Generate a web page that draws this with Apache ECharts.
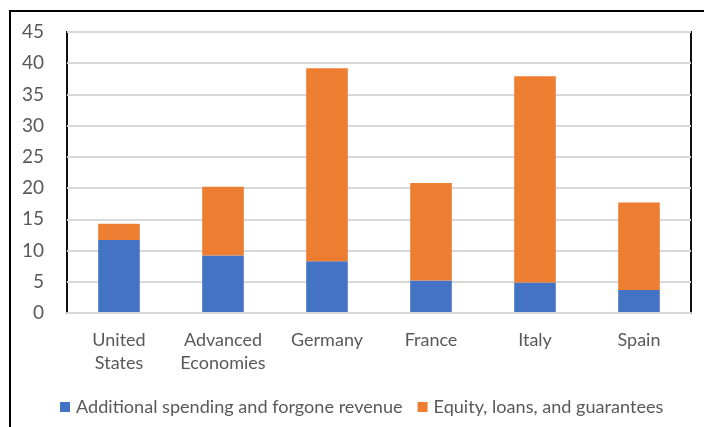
<!DOCTYPE html>
<html>
<head>
<meta charset="utf-8">
<script src="https://cdn.jsdelivr.net/npm/echarts@6/dist/echarts.min.js"></script>
<style>
  html, body { margin: 0; padding: 0; background: #fff; }
  #chart { width: 704px; height: 427px; }
</style>
</head>
<body>
<div id="chart"></div>
<script>
// Fiscal support by economy, % of GDP
const categories = ['United\nStates', 'Advanced\nEconomies', 'Germany', 'France', 'Italy', 'Spain'];
const spending = [11.7, 9.2, 8.3, 5.2, 4.9, 3.7];      // additional spending and forgone revenue
const equityLoans = [2.6, 11.0, 30.9, 15.6, 33.0, 14.0]; // equity, loans, and guarantees
const yTicks = { min: 0, max: 45, interval: 5 };

const FONT = 'Lato, "Open Sans", sans-serif';
const TEXT = '#595959';

const chart = echarts.init(document.getElementById('chart'), null, { renderer: 'canvas' });

chart.setOption({
  animation: false,
  backgroundColor: '#ffffff',
  textStyle: { fontFamily: FONT, color: TEXT },
  grid: {
    left: 67, right: 13, top: 32, bottom: 114,
    show: true, borderColor: '#111', borderWidth: 2
  },
  legend: {
    left: 55, top: 393,
    icon: 'rect', itemWidth: 10, itemHeight: 10, itemGap: 15,
    textStyle: { fontFamily: FONT, fontSize: 18.1, color: TEXT, padding: [0, 0, 0, 1] },
    data: ['Additional spending and forgone revenue', 'Equity, loans, and guarantees']
  },
  xAxis: {
    type: 'category',
    data: categories,
    z: 5,
    axisLine: { show: true, lineStyle: { color: '#d9d9d9', width: 2 } },
    axisTick: { show: false },
    axisLabel: { fontFamily: FONT, fontSize: 18, color: TEXT, lineHeight: 23, margin: 16, interval: 0 }
  },
  yAxis: {
    type: 'value',
    min: yTicks.min, max: yTicks.max, interval: yTicks.interval,
    axisLine: { show: false },
    axisTick: { show: false },
    splitLine: { lineStyle: { color: '#d9d9d9', width: 2 } },
    axisLabel: { fontFamily: FONT, fontSize: 19, color: TEXT, margin: 23 }
  },
  series: [
    {
      name: 'Additional spending and forgone revenue',
      type: 'bar', stack: 'total',
      barCategoryGap: '60%',
      itemStyle: { color: '#4472C4' },
      data: spending
    },
    {
      name: 'Equity, loans, and guarantees',
      type: 'bar', stack: 'total',
      barCategoryGap: '60%',
      itemStyle: { color: '#ED7D31' },
      data: equityLoans
    }
  ],
  graphic: [
    {
      // outer frame: left and top edges
      type: 'polyline',
      shape: { points: [[10, 427], [10, 11], [704, 11]] },
      style: { stroke: '#000', lineWidth: 2, fill: null },
      silent: true
    }
  ]
});
</script>
</body>
</html>
